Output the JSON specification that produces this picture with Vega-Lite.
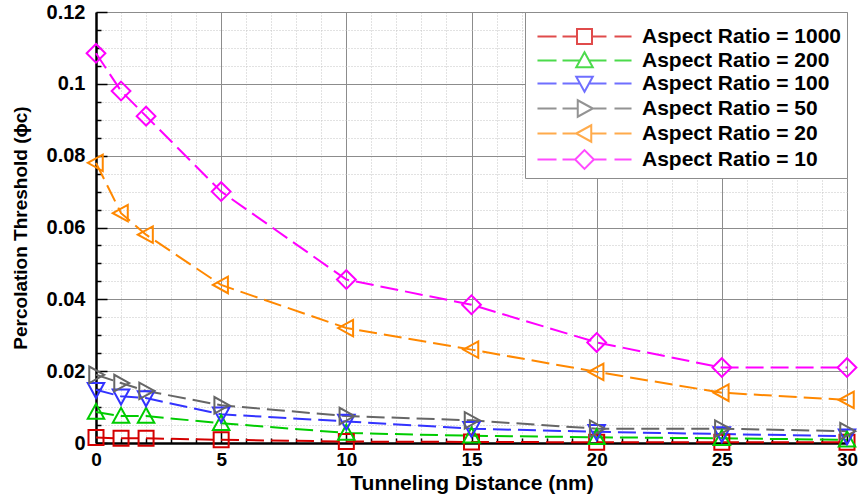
{
  "$schema": "https://vega.github.io/schema/vega-lite/v6.json",
  "width": 751,
  "height": 431,
  "autosize": {"type": "none"},
  "padding": {"left": 96, "top": 12, "right": 13, "bottom": 53},
  "background": "white",
  "config": {
    "font": "Liberation Sans",
    "view": {"stroke": null},
    "axis": {"labelFont": "Liberation Sans", "titleFont": "Liberation Sans"}
  },
  "data": {
    "values": [
      {"d": 0, "p": 0.0015, "s": "Aspect Ratio = 1000"},
      {"d": 1, "p": 0.0013, "s": "Aspect Ratio = 1000"},
      {"d": 2, "p": 0.0013, "s": "Aspect Ratio = 1000"},
      {"d": 5, "p": 0.0009, "s": "Aspect Ratio = 1000"},
      {"d": 10, "p": 0.0004, "s": "Aspect Ratio = 1000"},
      {"d": 15, "p": 0.0003, "s": "Aspect Ratio = 1000"},
      {"d": 20, "p": 0.0002, "s": "Aspect Ratio = 1000"},
      {"d": 25, "p": 0.0002, "s": "Aspect Ratio = 1000"},
      {"d": 30, "p": 0.0002, "s": "Aspect Ratio = 1000"},
      {"d": 0, "p": 0.0086, "s": "Aspect Ratio = 200"},
      {"d": 1, "p": 0.0075, "s": "Aspect Ratio = 200"},
      {"d": 2, "p": 0.0075, "s": "Aspect Ratio = 200"},
      {"d": 5, "p": 0.0055, "s": "Aspect Ratio = 200"},
      {"d": 10, "p": 0.0028, "s": "Aspect Ratio = 200"},
      {"d": 15, "p": 0.002, "s": "Aspect Ratio = 200"},
      {"d": 20, "p": 0.0016, "s": "Aspect Ratio = 200"},
      {"d": 25, "p": 0.0013, "s": "Aspect Ratio = 200"},
      {"d": 30, "p": 0.0009, "s": "Aspect Ratio = 200"},
      {"d": 0, "p": 0.0148, "s": "Aspect Ratio = 100"},
      {"d": 1, "p": 0.013, "s": "Aspect Ratio = 100"},
      {"d": 2, "p": 0.0125, "s": "Aspect Ratio = 100"},
      {"d": 5, "p": 0.008, "s": "Aspect Ratio = 100"},
      {"d": 10, "p": 0.006, "s": "Aspect Ratio = 100"},
      {"d": 15, "p": 0.004, "s": "Aspect Ratio = 100"},
      {"d": 20, "p": 0.0031, "s": "Aspect Ratio = 100"},
      {"d": 25, "p": 0.0025, "s": "Aspect Ratio = 100"},
      {"d": 30, "p": 0.0019, "s": "Aspect Ratio = 100"},
      {"d": 0, "p": 0.019, "s": "Aspect Ratio = 50"},
      {"d": 1, "p": 0.0167, "s": "Aspect Ratio = 50"},
      {"d": 2, "p": 0.0145, "s": "Aspect Ratio = 50"},
      {"d": 5, "p": 0.0105, "s": "Aspect Ratio = 50"},
      {"d": 10, "p": 0.0075, "s": "Aspect Ratio = 50"},
      {"d": 15, "p": 0.0063, "s": "Aspect Ratio = 50"},
      {"d": 20, "p": 0.004, "s": "Aspect Ratio = 50"},
      {"d": 25, "p": 0.004, "s": "Aspect Ratio = 50"},
      {"d": 30, "p": 0.0033, "s": "Aspect Ratio = 50"},
      {"d": 0, "p": 0.078, "s": "Aspect Ratio = 20"},
      {"d": 1, "p": 0.064, "s": "Aspect Ratio = 20"},
      {"d": 2, "p": 0.058, "s": "Aspect Ratio = 20"},
      {"d": 5, "p": 0.044, "s": "Aspect Ratio = 20"},
      {"d": 10, "p": 0.032, "s": "Aspect Ratio = 20"},
      {"d": 15, "p": 0.026, "s": "Aspect Ratio = 20"},
      {"d": 20, "p": 0.0198, "s": "Aspect Ratio = 20"},
      {"d": 25, "p": 0.014, "s": "Aspect Ratio = 20"},
      {"d": 30, "p": 0.012, "s": "Aspect Ratio = 20"},
      {"d": 0, "p": 0.1085, "s": "Aspect Ratio = 10"},
      {"d": 1, "p": 0.098, "s": "Aspect Ratio = 10"},
      {"d": 2, "p": 0.091, "s": "Aspect Ratio = 10"},
      {"d": 5, "p": 0.07, "s": "Aspect Ratio = 10"},
      {"d": 10, "p": 0.0455, "s": "Aspect Ratio = 10"},
      {"d": 15, "p": 0.0385, "s": "Aspect Ratio = 10"},
      {"d": 20, "p": 0.028, "s": "Aspect Ratio = 10"},
      {"d": 25, "p": 0.021, "s": "Aspect Ratio = 10"},
      {"d": 30, "p": 0.021, "s": "Aspect Ratio = 10"}
    ]
  },
  "layer": [
    {
      "mark": {"type": "line", "strokeWidth": 2, "strokeDash": [18, 7], "clip": false},
      "encoding": {
        "x": {
          "field": "d", "type": "quantitative",
          "scale": {"domain": [0, 30], "nice": false, "zero": false},
          "axis": {
            "orient": "bottom",
            "values": [0,1,2,3,4,5,6,7,8,9,10,11,12,13,14,15,16,17,18,19,20,21,22,23,24,25,26,27,28,29,30],
            "labels": false, "domain": false, "title": null,
            "grid": true, "gridColor": "#c4c4c4", "gridDash": [1, 2], "gridWidth": 1,
            "gridOpacity": {"condition": {"test": "datum.value % 5 === 0", "value": 0}, "value": 1},
            "ticks": true, "tickColor": "black", "tickWidth": 1.5,
            "tickSize": {"condition": {"test": "datum.value % 5 === 0", "value": -11}, "value": -5}
          }
        },
        "y": {
          "field": "p", "type": "quantitative",
          "scale": {"domain": [0, 0.12], "nice": false},
          "axis": {
            "orient": "left",
            "values": [0,0.005,0.01,0.015,0.02,0.025,0.03,0.035,0.04,0.045,0.05,0.055,0.06,0.065,0.07,0.075,0.08,0.085,0.09,0.095,0.1,0.105,0.11,0.115,0.12],
            "labels": false, "domain": false, "title": null,
            "grid": true, "gridColor": "#c4c4c4", "gridDash": [1, 2], "gridWidth": 1,
            "gridOpacity": {"condition": {"test": "abs(datum.value*50 - round(datum.value*50)) < 0.000001", "value": 0}, "value": 1},
            "ticks": true, "tickColor": "black", "tickWidth": 1.5,
            "tickSize": {"condition": {"test": "abs(datum.value*50 - round(datum.value*50)) < 0.000001", "value": -11}, "value": -5}
          }
        },
        "color": {
          "field": "s", "type": "nominal",
          "scale": {
            "domain": ["Aspect Ratio = 1000", "Aspect Ratio = 200", "Aspect Ratio = 100", "Aspect Ratio = 50", "Aspect Ratio = 20", "Aspect Ratio = 10"],
            "range": ["#d40000", "#00cc00", "#3333ff", "#666666", "#ff8800", "#ff00ff"]
          },
          "legend": null
        }
      }
    },
    {
      "mark": {"type": "point", "filled": false, "strokeWidth": 2, "size": 225, "opacity": 1, "clip": false},
      "encoding": {
        "x": {
          "field": "d", "type": "quantitative",
          "axis": {
            "orient": "bottom",
            "values": [0, 5, 10, 15, 20, 25, 30],
            "grid": true, "gridColor": "#8c8c8c", "gridWidth": 1,
            "ticks": false, "labelFlush": false,
            "domain": true, "domainColor": "black", "domainWidth": 2.5,
            "labelFontSize": 19, "labelFontWeight": "bold", "labelColor": "black", "labelPadding": 7,
            "title": "Tunneling Distance (nm)", "titleFontSize": 21, "titleFontWeight": "bold", "titleColor": "black", "titlePadding": 3
          }
        },
        "y": {
          "field": "p", "type": "quantitative",
          "axis": {
            "orient": "left",
            "values": [0, 0.02, 0.04, 0.06, 0.08, 0.1, 0.12],
            "format": ".2~f",
            "grid": true, "gridColor": "#8c8c8c", "gridWidth": 1,
            "ticks": false, "labelFlush": false, "labelBaseline": "middle",
            "domain": true, "domainColor": "black", "domainWidth": 2.5,
            "labelFontSize": 20, "labelFontWeight": "bold", "labelColor": "black", "labelPadding": 11,
            "title": "Percolation Threshold (ϕc)", "titleFontSize": 19, "titleFontWeight": "bold", "titleColor": "black", "titlePadding": 16
          }
        },
        "color": {
          "field": "s", "type": "nominal",
          "scale": {
            "domain": ["Aspect Ratio = 1000", "Aspect Ratio = 200", "Aspect Ratio = 100", "Aspect Ratio = 50", "Aspect Ratio = 20", "Aspect Ratio = 10"],
            "range": ["#d40000", "#00cc00", "#3333ff", "#666666", "#ff8800", "#ff00ff"]
          },
          "legend": null
        },
        "shape": {
          "field": "s", "type": "nominal",
          "scale": {
            "domain": ["Aspect Ratio = 1000", "Aspect Ratio = 200", "Aspect Ratio = 100", "Aspect Ratio = 50", "Aspect Ratio = 20", "Aspect Ratio = 10"],
            "range": [
              "M-1,-1H1V1H-1Z",
              "M0,-1.1L1.1,0.9H-1.1Z",
              "M0,1.1L1.1,-0.9H-1.1Z",
              "M1.1,0L-0.9,-1.1V1.1Z",
              "M-1.1,0L0.9,-1.1V1.1Z",
              "M0,-1.25L1.25,0L0,1.25L-1.25,0Z"
            ]
          },
          "legend": null
        }
      }
    },
    {
      "transform": [{"filter": "datum.d < 0"}],
      "mark": {"type": "point", "filled": false, "strokeWidth": 2, "size": 225},
      "encoding": {
        "x": {"field": "d", "type": "quantitative", "axis": null},
        "y": {"field": "p", "type": "quantitative", "axis": null},
        "color": {
          "field": "s", "type": "nominal",
          "scale": {
            "domain": ["Aspect Ratio = 1000", "Aspect Ratio = 200", "Aspect Ratio = 100", "Aspect Ratio = 50", "Aspect Ratio = 20", "Aspect Ratio = 10"],
            "range": ["#d40000", "#00cc00", "#3333ff", "#666666", "#ff8800", "#ff00ff"]
          },
          "legend": {
            "title": " ", "titleFontSize": 1, "titlePadding": 8,
            "orient": "top-right", "offset": 0, "padding": 5, "rowPadding": 0,
            "symbolSize": 225, "symbolStrokeWidth": 2, "symbolOffset": 44, "labelOffset": 47, "labelLimit": 400,
            "labelFontSize": 21, "labelFontWeight": "bold", "labelColor": "black", "labelFont": "Liberation Sans",
            "fillColor": "white", "strokeColor": "#8c8c8c", "symbolFillColor": "transparent"
          }
        },
        "shape": {
          "field": "s", "type": "nominal",
          "scale": {
            "domain": ["Aspect Ratio = 1000", "Aspect Ratio = 200", "Aspect Ratio = 100", "Aspect Ratio = 50", "Aspect Ratio = 20", "Aspect Ratio = 10"],
            "range": [
              "M-6.27,0H-3.73M-2.93,0H-1M1,0H2.93M4,0H6.27M-1,-1H1V1H-1Z",
              "M-6.27,0H-3.73M-2.93,0H-0.6M0.6,0H2.93M4,0H6.27M0,-1.1L1.1,0.9H-1.1Z",
              "M-6.27,0H-3.73M-2.93,0H-0.6M0.6,0H2.93M4,0H6.27M0,1.1L1.1,-0.9H-1.1Z",
              "M-6.27,0H-3.73M-2.93,0H-0.9M1.1,0H2.93M4,0H6.27M1.1,0L-0.9,-1.1V1.1Z",
              "M-6.27,0H-3.73M-2.93,0H-1.1M0.9,0H2.93M4,0H6.27M-1.1,0L0.9,-1.1V1.1Z",
              "M-6.27,0H-3.73M-2.93,0H-1.25M1.25,0H2.93M4,0H6.27M0,-1.25L1.25,0L0,1.25L-1.25,0Z"
            ]
          },
          "legend": {
            "title": " ", "titleFontSize": 1, "titlePadding": 8,
            "orient": "top-right", "offset": 0, "padding": 5, "rowPadding": 0,
            "symbolSize": 225, "symbolStrokeWidth": 2, "symbolOffset": 44, "labelOffset": 47, "labelLimit": 400,
            "labelFontSize": 21, "labelFontWeight": "bold", "labelColor": "black", "labelFont": "Liberation Sans",
            "fillColor": "white", "strokeColor": "#8c8c8c", "symbolFillColor": "transparent"
          }
        }
      }
    }
  ],
  "resolve": {
    "scale": {"color": "independent", "shape": "independent"},
    "axis": {"x": "independent", "y": "independent"}
  }
}
